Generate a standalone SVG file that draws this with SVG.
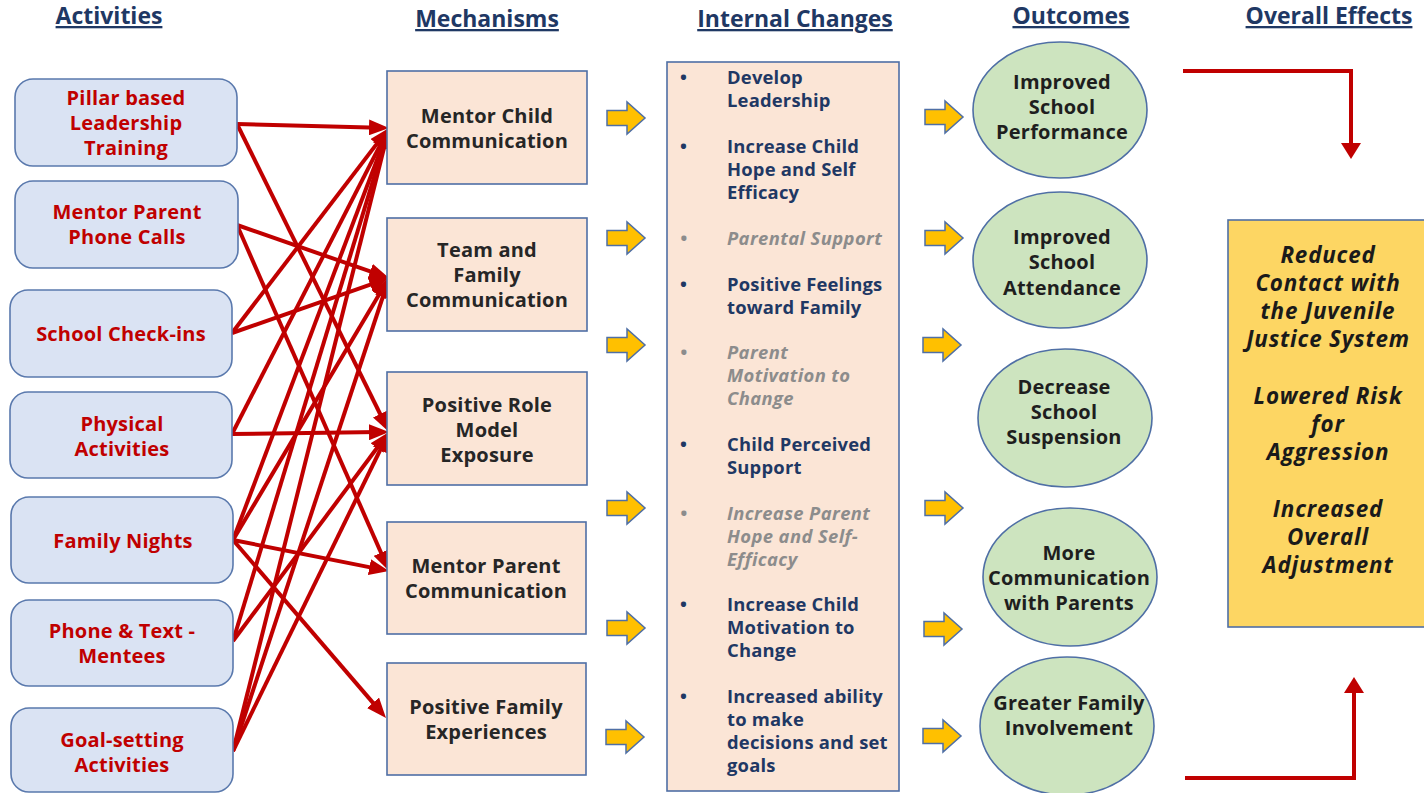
<svg xmlns="http://www.w3.org/2000/svg" width="1424" height="793" viewBox="0 0 1424 793">
<style>
.hdr{font-family:"Open Sans","Liberation Sans",sans-serif;font-weight:bold;font-size:23px;fill:#1f3864;text-anchor:middle;text-decoration:underline}
.act rect{fill:#dae3f3;stroke:#5a79ad;stroke-width:1.6}
.act text{font-family:"Open Sans","Liberation Sans",sans-serif;font-weight:bold;font-size:20px;letter-spacing:0.2px;fill:#c00000;text-anchor:middle}
.mech rect{fill:#fbe5d6;stroke:#4f6fa5;stroke-width:1.6}
.mech text{font-family:"Open Sans","Liberation Sans",sans-serif;font-weight:bold;font-size:20px;letter-spacing:0.2px;fill:#262626;text-anchor:middle}
.ic text{font-family:"Open Sans","Liberation Sans",sans-serif;font-size:18.4px}
.ic .b{font-weight:bold;fill:#1f3864;letter-spacing:0.2px}
.ic .g{font-weight:bold;font-style:italic;fill:#8c8c8c;letter-spacing:0.4px}
.out ellipse{fill:#cde4bf;stroke:#4f6fa5;stroke-width:1.6}
.out text{font-family:"Open Sans","Liberation Sans",sans-serif;font-weight:bold;font-size:20px;letter-spacing:0.2px;fill:#1e1e1e;text-anchor:middle}
.eff rect{fill:#fdd663;stroke:#4f6fa5;stroke-width:1.6}
.eff text{font-family:"Open Sans","Liberation Sans",sans-serif;font-weight:bold;font-style:italic;font-size:22.4px;letter-spacing:0.8px;fill:#1a1a1a;text-anchor:middle}
.con line{stroke:#c00000;stroke-width:4;marker-end:url(#ah)}
.ya{fill:#ffc000;stroke:#4f6fa5;stroke-width:1.5;stroke-linejoin:miter}
.big{fill:none;stroke:#c00000;stroke-width:4}
</style>
<defs>
<marker id="ah" viewBox="0 0 10 8" refX="5" refY="4" markerWidth="5" markerHeight="4" orient="auto" markerUnits="strokeWidth">
<path d="M0,0 L10,4 L0,8 Z" fill="#c00000"/>
</marker>
<path id="yarrow" class="ya" d="M0,-7.5 H20 V-16 L38,0 L20,16 V7.5 H0 Z"/>
</defs>
<rect width="1424" height="793" fill="#ffffff"/>

<g id="headers">
<text class="hdr" x="109" y="24">Activities</text>
<text class="hdr" x="487" y="27">Mechanisms</text>
<text class="hdr" x="795" y="27">Internal Changes</text>
<text class="hdr" x="1071" y="24">Outcomes</text>
<text class="hdr" x="1329" y="24">Overall Effects</text>
</g>

<g id="connectors" class="con">
<line x1="237" y1="124" x2="379" y2="127.7"/>
<line x1="237" y1="124" x2="384.6" y2="423"/>
<line x1="237" y1="225" x2="379.6" y2="274.7"/>
<line x1="237" y1="225" x2="385" y2="561.8"/>
<line x1="232" y1="333" x2="382.9" y2="135.9"/>
<line x1="232" y1="333" x2="379.6" y2="281.3"/>
<line x1="232" y1="434" x2="384.4" y2="136.9"/>
<line x1="232" y1="434" x2="379" y2="432.1"/>
<line x1="233" y1="540" x2="385.5" y2="137.4"/>
<line x1="233" y1="540" x2="383.9" y2="286.6"/>
<line x1="233" y1="540" x2="379.2" y2="569.1"/>
<line x1="233" y1="540" x2="379.5" y2="710.4"/>
<line x1="233" y1="641" x2="386.1" y2="137.6"/>
<line x1="233" y1="641" x2="383" y2="440"/>
<line x1="233" y1="751" x2="386.6" y2="137.7"/>
<line x1="233" y1="751" x2="385.9" y2="287.5"/>
<line x1="233" y1="751" x2="384.6" y2="441"/>
</g>

<g id="act1" class="act"><rect x="15" y="79" width="222" height="87" rx="18"/>
<text x="126" y="105">Pillar based<tspan x="126" dy="25">Leadership</tspan><tspan x="126" dy="25">Training</tspan></text></g>
<g id="act2" class="act"><rect x="15" y="181" width="223" height="87" rx="18"/>
<text x="127" y="219">Mentor Parent<tspan x="127" dy="25">Phone Calls</tspan></text></g>
<g id="act3" class="act"><rect x="10" y="290" width="222" height="87" rx="18"/>
<text x="121" y="341">School Check-ins</text></g>
<g id="act4" class="act"><rect x="10" y="392" width="222" height="86" rx="18"/>
<text x="122" y="431">Physical<tspan x="122" dy="25">Activities</tspan></text></g>
<g id="act5" class="act"><rect x="11" y="497" width="222" height="86" rx="18"/>
<text x="123" y="548">Family Nights</text></g>
<g id="act6" class="act"><rect x="11" y="600" width="222" height="86" rx="18"/>
<text x="122" y="638">Phone &amp; Text -<tspan x="122" dy="25">Mentees</tspan></text></g>
<g id="act7" class="act"><rect x="11" y="708" width="222" height="84" rx="18"/>
<text x="122" y="747">Goal-setting<tspan x="122" dy="25">Activities</tspan></text></g>

<g id="mech1" class="mech"><rect x="387" y="71" width="200" height="113"/>
<text x="487" y="123">Mentor Child<tspan x="487" dy="25">Communication</tspan></text></g>
<g id="mech2" class="mech"><rect x="387" y="218" width="200" height="113"/>
<text x="487" y="257">Team and<tspan x="487" dy="25">Family</tspan><tspan x="487" dy="25">Communication</tspan></text></g>
<g id="mech3" class="mech"><rect x="387" y="372" width="200" height="113"/>
<text x="487" y="412">Positive Role<tspan x="487" dy="25">Model</tspan><tspan x="487" dy="25">Exposure</tspan></text></g>
<g id="mech4" class="mech"><rect x="387" y="522" width="199" height="112"/>
<text x="486" y="573">Mentor Parent<tspan x="486" dy="25">Communication</tspan></text></g>
<g id="mech5" class="mech"><rect x="387" y="663" width="199" height="112"/>
<text x="486" y="714">Positive Family<tspan x="486" dy="25">Experiences</tspan></text></g>

<g id="yellow-arrows-left">
<use href="#yarrow" x="607" y="118"/>
<use href="#yarrow" x="607" y="238"/>
<use href="#yarrow" x="607" y="345"/>
<use href="#yarrow" x="607" y="508"/>
<use href="#yarrow" x="607" y="628"/>
<use href="#yarrow" x="606" y="737"/>
</g>

<g id="internal-changes" class="ic">
<rect x="667" y="62" width="232" height="729" fill="#fbe5d6" stroke="#4f6fa5" stroke-width="1.6"/>
<text class="b" x="680" y="84">•</text><text class="b" x="727" y="84">Develop<tspan x="727" dy="23">Leadership</tspan></text>
<text class="b" x="680" y="153">•</text><text class="b" x="727" y="153">Increase Child<tspan x="727" dy="23">Hope and Self</tspan><tspan x="727" dy="23">Efficacy</tspan></text>
<text class="g" x="680" y="245">•</text><text class="g" x="727" y="245">Parental Support</text>
<text class="b" x="680" y="291">•</text><text class="b" x="727" y="291">Positive Feelings<tspan x="727" dy="23">toward Family</tspan></text>
<text class="g" x="680" y="359">•</text><text class="g" x="727" y="359">Parent<tspan x="727" dy="23">Motivation to</tspan><tspan x="727" dy="23">Change</tspan></text>
<text class="b" x="680" y="451">•</text><text class="b" x="727" y="451">Child Perceived<tspan x="727" dy="23">Support</tspan></text>
<text class="g" x="680" y="520">•</text><text class="g" x="727" y="520">Increase Parent<tspan x="727" dy="23">Hope and Self-</tspan><tspan x="727" dy="23">Efficacy</tspan></text>
<text class="b" x="680" y="611">•</text><text class="b" x="727" y="611">Increase Child<tspan x="727" dy="23">Motivation to</tspan><tspan x="727" dy="23">Change</tspan></text>
<text class="b" x="680" y="703">•</text><text class="b" x="727" y="703">Increased ability<tspan x="727" dy="23">to make</tspan><tspan x="727" dy="23">decisions and set</tspan><tspan x="727" dy="23">goals</tspan></text>
</g>

<g id="yellow-arrows-right">
<use href="#yarrow" x="925" y="117"/>
<use href="#yarrow" x="925" y="238"/>
<use href="#yarrow" x="923" y="345"/>
<use href="#yarrow" x="925" y="508"/>
<use href="#yarrow" x="924" y="629"/>
<use href="#yarrow" x="923" y="736"/>
</g>

<g id="out1" class="out"><ellipse cx="1060" cy="110" rx="87" ry="68"/>
<text x="1062" y="89">Improved<tspan x="1062" dy="25">School</tspan><tspan x="1062" dy="25">Performance</tspan></text></g>
<g id="out2" class="out"><ellipse cx="1060" cy="260" rx="87" ry="68"/>
<text x="1062" y="244">Improved<tspan x="1062" dy="25">School</tspan><tspan x="1062" dy="26">Attendance</tspan></text></g>
<g id="out3" class="out"><ellipse cx="1065" cy="418" rx="87" ry="69"/>
<text x="1064" y="394">Decrease<tspan x="1064" dy="25">School</tspan><tspan x="1064" dy="25">Suspension</tspan></text></g>
<g id="out4" class="out"><ellipse cx="1070" cy="577" rx="87" ry="69"/>
<text x="1069" y="560">More<tspan x="1069" dy="25">Communication</tspan><tspan x="1069" dy="25">with Parents</tspan></text></g>
<g id="out5" class="out"><ellipse cx="1067" cy="726" rx="87" ry="69"/>
<text x="1069" y="710">Greater Family<tspan x="1069" dy="25">Involvement</tspan></text></g>

<g id="effect-arrows">
<path class="big" d="M1183,71 H1351 V144"/>
<path d="M1341,143 L1361,143 L1351,159 Z" fill="#c00000"/>
<path class="big" d="M1185,778 H1354 V692"/>
<path d="M1344,693 L1364,693 L1354,677 Z" fill="#c00000"/>
</g>

<g id="overall" class="eff"><rect x="1228" y="220" width="210" height="407"/>
<text x="1328" y="263">Reduced<tspan x="1328" dy="28">Contact with</tspan><tspan x="1328" dy="28">the Juvenile</tspan><tspan x="1328" dy="28">Justice System</tspan></text>
<text x="1328" y="404">Lowered Risk<tspan x="1328" dy="28">for</tspan><tspan x="1328" dy="28">Aggression</tspan></text>
<text x="1328" y="517">Increased<tspan x="1328" dy="28">Overall</tspan><tspan x="1328" dy="28">Adjustment</tspan></text></g>
</svg>
